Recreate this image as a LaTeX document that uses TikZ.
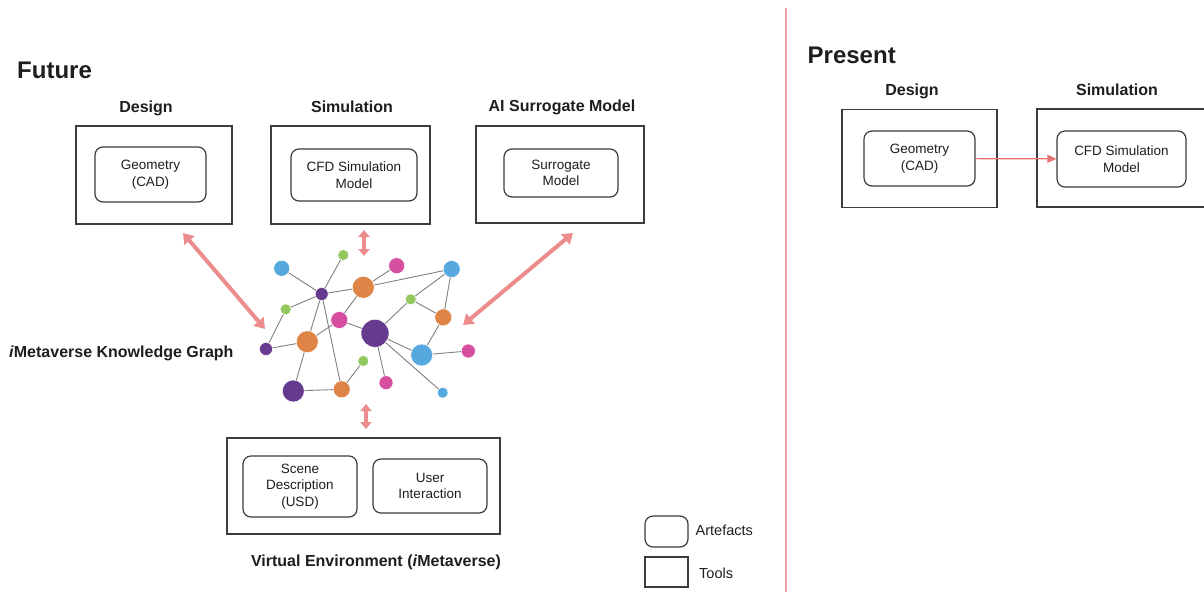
\documentclass[tikz,border=0pt]{standalone}
\usepackage{fontspec}
\setmainfont{Liberation Sans}
\usetikzlibrary{arrows.meta}
\definecolor{gblue}{HTML}{56A9DE}
\definecolor{ggreen}{HTML}{92C85E}
\definecolor{gpink}{HTML}{D64F9E}
\definecolor{gpurple}{HTML}{663A8E}
\definecolor{gorange}{HTML}{DD8446}
\definecolor{salmon}{HTML}{EC8C8C}
\definecolor{pres}{HTML}{E57373}
\definecolor{divcol}{HTML}{EDA3A3}
\definecolor{boxline}{HTML}{3C3C3C}
\definecolor{txt}{HTML}{1E1E1E}
\begin{document}
\begin{tikzpicture}[x=1pt,y=-1pt,
  toolbox/.style={draw=boxline, line width=1.4pt, inner sep=0pt},
  artbox/.style={draw=boxline, line width=1.2pt, rounded corners=8pt, inner sep=0pt, align=center,
     text=txt, font=\fontsize{13.5}{16.5}\selectfont},
  ttl/.style={text=txt, font=\bfseries\fontsize{16}{19}\selectfont, inner sep=0pt},
  bigttl/.style={text=txt, font=\bfseries\fontsize{24}{28}\selectfont, inner sep=0pt, anchor=west},
  legtxt/.style={text=txt, font=\fontsize{14.5}{17}\selectfont, inner sep=0pt, anchor=west},
  gn/.style={circle, inner sep=0pt, draw=white, line width=0.5pt},
  ge/.style={draw=black!50, line width=0.9pt},
  bigarrow/.style={draw=salmon, line width=4pt, {Triangle[width=13pt,length=10pt]}-{Triangle[width=13pt,length=10pt]}},
  shortarrow/.style={draw=salmon, line width=4pt, {Triangle[width=11pt,length=7pt]}-{Triangle[width=11pt,length=7pt]}},
  presarrow/.style={draw=pres, line width=1.2pt, -{Triangle[width=8pt,length=9pt]}},
  divider/.style={draw=divcol, line width=1.5pt}
]
\clip (0,0) rectangle (1204,592);
\fill[white] (0,0) rectangle (1204,592);

% ---------- Future ----------
\node[bigttl] (future) at (17,70) {Future};

\node[ttl] (tdesign) at (146,108) {Design};
\node[ttl] (tsim) at (352,107) {Simulation};
\node[ttl] (tai) at (562,107) {AI Surrogate Model};

\node[toolbox, minimum width=156pt, minimum height=98pt] (design) at (154,175) {};
\node[toolbox, minimum width=159pt, minimum height=98pt] (sim) at (350.5,175) {};
\node[toolbox, minimum width=168pt, minimum height=97pt] (ai) at (560,174.5) {};

\node[artbox, minimum width=111pt, minimum height=55pt] (geo) at (150.5,174.5) {Geometry\\(CAD)};
\node[artbox, minimum width=126pt, minimum height=52pt] (cfd) at (354,175) {CFD Simulation\\Model};
\node[artbox, minimum width=114pt, minimum height=48pt] (surr) at (561,173) {Surrogate\\Model};

% ---------- Knowledge graph ----------
\node[text=txt, font=\bfseries\fontsize{16}{19}\selectfont, inner sep=0pt, anchor=west] (kglabel) at (9,353) {\textit{i}Metaverse Knowledge Graph};

\node[gn, fill=gblue,   minimum size=16pt] (n1)  at (281.7,268.3) {};
\node[gn, fill=ggreen,  minimum size=11pt] (n2)  at (343.3,255) {};
\node[gn, fill=gpink,   minimum size=16pt] (n3)  at (396.7,265.7) {};
\node[gn, fill=gblue,   minimum size=17pt] (n4)  at (451.7,269) {};
\node[gn, fill=gpurple, minimum size=13pt] (n5)  at (321.7,294) {};
\node[gn, fill=gorange, minimum size=22pt] (n6)  at (363.3,287.3) {};
\node[gn, fill=ggreen,  minimum size=11pt] (n7)  at (285.7,309.3) {};
\node[gn, fill=ggreen,  minimum size=11pt] (n8)  at (410.7,299.3) {};
\node[gn, fill=gorange, minimum size=17pt] (n9)  at (443.3,317.3) {};
\node[gn, fill=gpink,   minimum size=17pt] (n10) at (339.3,320) {};
\node[gn, fill=gpurple, minimum size=28pt] (n11) at (375,333.3) {};
\node[gn, fill=gorange, minimum size=22pt] (n12) at (307.3,341.7) {};
\node[gn, fill=gpurple, minimum size=13pt] (n13) at (266,349) {};
\node[gn, fill=gblue,   minimum size=22pt] (n14) at (421.7,355) {};
\node[gn, fill=gpink,   minimum size=14pt] (n15) at (468.3,351) {};
\node[gn, fill=ggreen,  minimum size=11pt] (n16) at (363.3,361) {};
\node[gn, fill=gpink,   minimum size=14pt] (n17) at (386,382.7) {};
\node[gn, fill=gpurple, minimum size=22pt] (n18) at (293.3,391) {};
\node[gn, fill=gorange, minimum size=17pt] (n19) at (341.7,389.3) {};
\node[gn, fill=gblue,   minimum size=11pt] (n20) at (442.7,392.7) {};

\foreach \a/\b in {n1/n5, n2/n5, n5/n6, n6/n3, n6/n4, n6/n10, n5/n7, n5/n12, n5/n19,
  n7/n13, n13/n12, n12/n10, n12/n18, n18/n19, n19/n16, n10/n11, n11/n14, n11/n8,
  n8/n4, n8/n9, n4/n9, n9/n14, n14/n15, n11/n17, n11/n20}
  \draw[ge] (\a) -- (\b);

% ---------- Thick arrows ----------
\coordinate (dA) at (183,233);
\coordinate (dB) at (265,329);
\coordinate (sA) at (364,230);
\coordinate (sB) at (364,256);
\coordinate (aA) at (573,233);
\coordinate (aB) at (463,325);
\coordinate (vA) at (366,404);
\coordinate (vB) at (366,429);
\draw[bigarrow] (dA) -- (dB);
\draw[shortarrow] (sA) -- (sB);
\draw[bigarrow] (aA) -- (aB);
\draw[shortarrow] (vA) -- (vB);

% ---------- Virtual environment ----------
\node[toolbox, minimum width=273pt, minimum height=96pt] (ve) at (363.5,486) {};
\node[artbox, minimum width=114pt, minimum height=61pt] (scene) at (300,486.5) {Scene\\Description\\(USD)};
\node[artbox, minimum width=114pt, minimum height=54pt] (user) at (430,486) {User\\Interaction};
\node[ttl] (tve) at (376,562) {Virtual Environment (\textit{i}Metaverse)};

% ---------- Legend ----------
\node[artbox, minimum width=43pt, minimum height=31pt] (legart) at (666.5,531.5) {};
\node[toolbox, line width=1.2pt, minimum width=43pt, minimum height=30pt] (legtool) at (666.5,572) {};
\node[legtxt] (legarttxt) at (695.5,530) {Artefacts};
\node[legtxt] (legtooltxt) at (699,573) {Tools};

% ---------- Divider ----------
\coordinate (divtop) at (786,8);
\coordinate (divbot) at (786,592);
\draw[divider] (divtop) -- (divbot);

% ---------- Present ----------
\node[bigttl] (present) at (807.5,55) {Present};
\node[ttl] (tdesignR) at (912,91) {Design};
\node[ttl] (tsimR) at (1117,90) {Simulation};
\node[toolbox, minimum width=155pt, minimum height=98pt] (designR) at (919.5,158.5) {};
\node[toolbox, minimum width=173pt, minimum height=98pt] (simR) at (1123.5,158) {};
\node[artbox, minimum width=111pt, minimum height=55pt] (geoR) at (919.5,158.5) {Geometry\\(CAD)};
\node[artbox, minimum width=129pt, minimum height=56pt] (cfdR) at (1121.5,159) {CFD Simulation\\Model};
\draw[presarrow] (geoR) -- (cfdR);
\end{tikzpicture}
\end{document}
